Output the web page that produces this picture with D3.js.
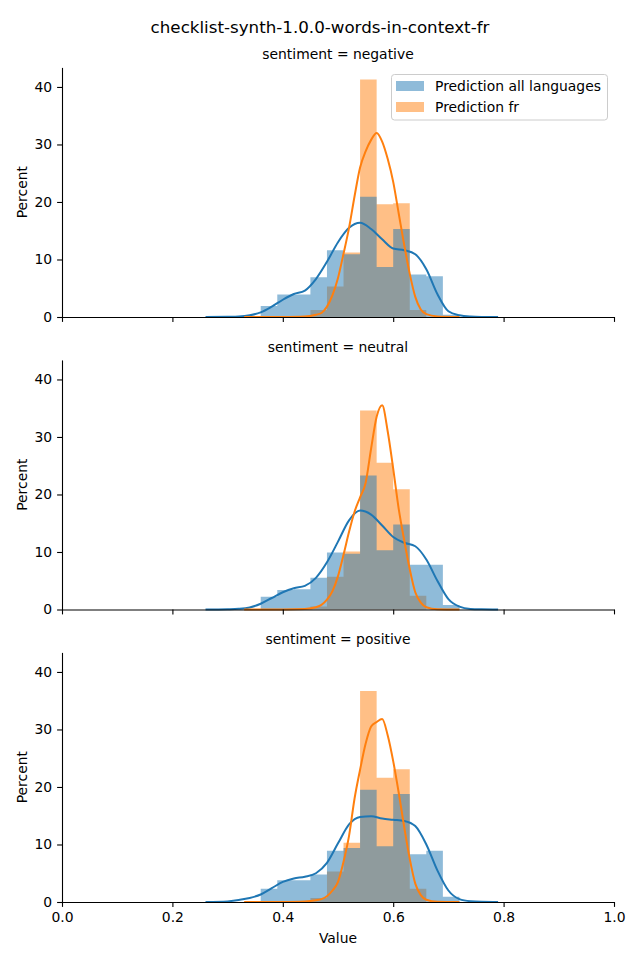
<!DOCTYPE html>
<html><head><meta charset="utf-8">
<script src="https://cdn.jsdelivr.net/npm/d3@7"></script>
<style>body{margin:0;background:#fff} text{font-family:"DejaVu Sans",sans-serif;fill:#000}</style>
</head><body><svg id="c" width="640" height="960"></svg>
<script>
// ---------- data ----------
const title = "checklist-synth-1.0.0-words-in-context-fr";
const panels = ["negative", "neutral", "positive"];
const seriesNames = ["Prediction all languages", "Prediction fr"];
const binEdges = [0.36,0.39,0.42,0.45,0.48,0.51,0.54,0.57,0.60,0.63,0.66,0.69,0.72];

const allLangNegative = [1.9,3.9,3.9,6.9,11.6,10.9,20.9,8.7,15.3,7.4,7.1,0.4];
const allLangNeutral  = [2.2,3.4,3.5,5.5,9.9,9.7,23.3,10.3,14.8,7.8,7.8,0.8];
const allLangPositive = [2.3,3.8,3.8,4.8,8.9,9.4,19.5,9.7,18.8,8.3,8.9,0.9];

const frNegative = [0,0,0,1.2,5.3,11.2,41.3,19.6,19.8,1.2,0,0];
const frNeutral  = [0,0,0,0.5,5.7,10.1,34.6,25.5,20.9,2.4,0,0];
const frPositive = [0,0,0,0.7,5.3,10.3,36.7,21.6,23.1,2.3,0,0];

const allLangKdeX = [0.26,0.30,0.32,0.34,0.36,0.38,0.40,0.42,0.44,0.46,0.48,0.50,0.52,0.54,0.56,0.58,0.60,0.62,0.64,0.66,0.68,0.70,0.72,0.74,0.76,0.79];
const allLangKdeNegative = [0,0.05,0.1,0.3,0.8,1.8,3.0,4.0,4.6,6.6,9.6,13.0,15.5,16.4,15.3,13.5,11.9,11.6,10.9,8.3,4.0,1.0,0.3,0.08,0.02,0];
const allLangKdeNeutral  = [0,0.05,0.12,0.35,1.0,2.0,3.0,3.7,4.1,5.5,8.2,11.8,15.5,17.2,16.5,14.6,12.6,11.6,11.0,8.7,5.0,1.8,0.5,0.1,0.03,0];
const allLangKdePositive = [0,0.1,0.35,0.7,1.3,2.4,3.5,4.1,4.4,5.0,6.8,10.2,13.5,14.8,14.9,14.5,14.3,14.1,13.2,10.0,5.5,2.0,0.5,0.12,0.03,0];

const frKdeX = [0.33,0.40,0.44,0.46,0.47,0.48,0.49,0.50,0.51,0.52,0.53,0.54,0.55,0.56,0.57,0.58,0.59,0.60,0.61,0.62,0.63,0.64,0.65,0.66,0.68,0.72];
const frKdeNegative = [0,0.02,0.1,0.4,0.7,1.8,3.8,6.8,11,15.5,21,26,28.8,30.8,32.0,30.5,27.5,23.5,18,12.5,7.5,3.5,1.3,0.5,0.1,0];
const frKdeNeutral  = [0,0.01,0.1,0.4,0.8,1.7,3.2,5.8,9.5,13.5,17.0,19.5,22.0,28.0,33.5,35.5,31.0,24.5,17.5,12.0,7.0,3.0,1.2,0.4,0.05,0];
const frKdePositive = [0,0.02,0.1,0.3,0.5,1.0,2.0,3.5,7,11.5,18,23,27.5,30.5,31.3,31.8,29,24.5,19,13,7.5,3.2,1.2,0.4,0.05,0];

const xTicks = [0,0.2,0.4,0.6,0.8,1.0];
const yTicks = [0,10,20,30,40];

// ---------- layout ----------
const allLangHist = [allLangNegative, allLangNeutral, allLangPositive];
const frHist = [frNegative, frNeutral, frPositive];
const allLangKde = [allLangKdeNegative, allLangKdeNeutral, allLangKdePositive];
const frKde = [frKdeNegative, frKdeNeutral, frKdePositive];

const blue = "#1f77b4", orange = "#ff7f0e";
const svg = d3.select("#c");
const left = 62, right = 614;
const panelBottoms = [317, 609.5, 902];
const panelH = 249.6;
const yMax = 43.4;
const fs = 13.9;

const x = d3.scaleLinear().domain([0,1]).range([left,right]);

svg.append("text").attr("x",320).attr("y",33).attr("text-anchor","middle")
  .attr("font-size",16.7).text(title);

panels.forEach((p,i)=>{
  const bottom = panelBottoms[i], top = bottom - panelH;
  const y = d3.scaleLinear().domain([0,yMax]).range([bottom, top]);
  const g = svg.append("g");

  function histPath(vals){
    const path = d3.path();
    vals.forEach((v,k)=>{
      if (v <= 0) return;
      const x0 = x(binEdges[k]), x1 = x(binEdges[k+1]);
      path.rect(x0, y(v), x1-x0, y(0)-y(v));
    });
    return path.toString();
  }
  g.append("path").attr("d", histPath(frHist[i])).attr("fill",orange).attr("fill-opacity",0.5);
  g.append("path").attr("d", histPath(allLangHist[i])).attr("fill",blue).attr("fill-opacity",0.5);

  const line = d3.line().x(d=>x(d[0])).y(d=>y(d[1])).curve(d3.curveMonotoneX);
  g.append("path").attr("d", line(allLangKdeX.map((v,k)=>[v, allLangKde[i][k]])))
    .attr("fill","none").attr("stroke",blue).attr("stroke-width",2);
  g.append("path").attr("d", line(frKdeX.map((v,k)=>[v, frKde[i][k]])))
    .attr("fill","none").attr("stroke",orange).attr("stroke-width",2);

  // axes
  const ya = g.append("g").attr("transform",`translate(${left},0)`)
    .call(d3.axisLeft(y).tickValues(yTicks).tickSize(4.9).tickPadding(4.9).tickSizeOuter(0));
  const xa = g.append("g").attr("transform",`translate(0,${bottom})`)
    .call(d3.axisBottom(x).tickValues(xTicks).tickSize(4.9).tickPadding(4.9).tickSizeOuter(0)
      .tickFormat(i===2 ? d3.format(".1f") : ()=>""));
  [ya, xa].forEach(a=>{
    a.selectAll("text").attr("font-size",fs).attr("font-family","DejaVu Sans, sans-serif");
    a.selectAll("line,path").attr("stroke","#000").attr("stroke-width",1.1);
  });

  g.append("text").attr("x",(left+right)/2).attr("y",top-8).attr("text-anchor","middle")
    .attr("font-size",fs).text("sentiment = " + p);
  g.append("text").attr("transform",`translate(22,${(top+bottom)/2}) rotate(-90)`)
    .attr("text-anchor","middle").attr("dominant-baseline","central")
    .attr("font-size",fs).text("Percent");
});

svg.append("text").attr("x",(left+right)/2).attr("y",943).attr("text-anchor","middle")
  .attr("font-size",fs).text("Value");

// legend
const lg = svg.append("g");
lg.append("rect").attr("x",391.5).attr("y",74.5).attr("width",216).attr("height",45.5)
  .attr("rx",3).attr("fill","#fff").attr("fill-opacity",0.8).attr("stroke","#cccccc");
[blue, orange].forEach((c,k)=>{
  lg.append("rect").attr("x",396).attr("y",81+k*21).attr("width",28).attr("height",10)
    .attr("fill",c).attr("fill-opacity",0.5);
  lg.append("text").attr("x",435).attr("y",91+k*21).attr("font-size",fs).text(seriesNames[k]);
});
</script></body></html>
